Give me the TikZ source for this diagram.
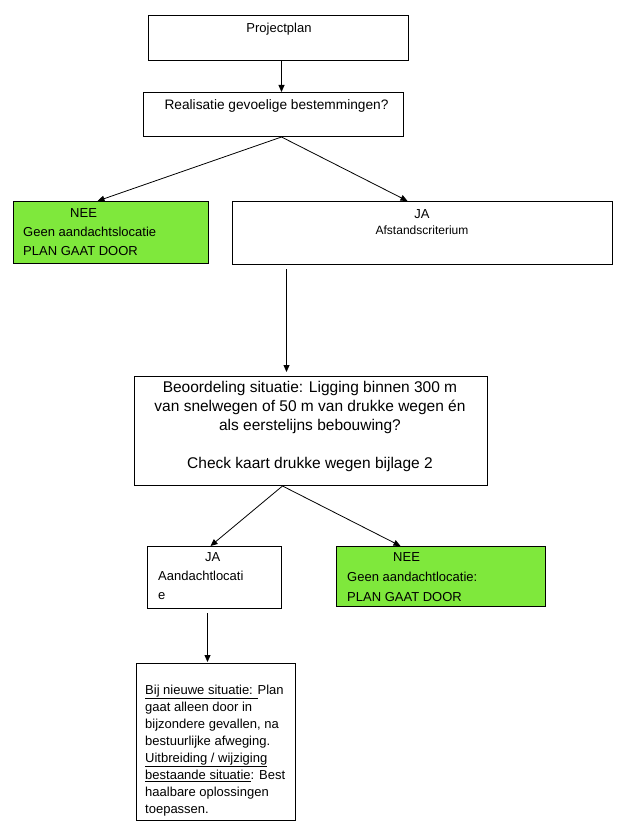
\documentclass[tikz,border=0pt]{standalone}
\usepackage{fontspec}
\setmainfont{Liberation Sans}
\usetikzlibrary{arrows.meta}
\definecolor{Lime}{HTML}{7FE83C}

\tikzset{
  box/.style={draw=black, line width=1pt, inner sep=0pt, anchor=north west},
  okbox/.style={box, fill=Lime},
  txt/.style={inner sep=0pt, font=\fontsize{13}{19}\selectfont},
  arr/.style={-{Triangle[length=7pt,width=6pt]}, line width=0.8pt},
}

\begin{document}
\begin{tikzpicture}[x=1pt,y=-1pt]
  \useasboundingbox (0,0) rectangle (629,826);
  % boxes
  \node[box, minimum width=260, minimum height=45] (plan) at (148,15) {};
  \node[box, minimum width=260, minimum height=44] (real) at (143,92) {};
  \node[okbox, minimum width=195, minimum height=62] (nee1) at (13,201) {};
  \node[box, minimum width=380, minimum height=63] (ja1) at (232,201) {};
  \node[box, minimum width=353, minimum height=109] (beo) at (134,376) {};
  \node[box, minimum width=134, minimum height=62] (ja2) at (147,546) {};
  \node[okbox, minimum width=209, minimum height=60] (nee2) at (336,546) {};
  \node[box, minimum width=159, minimum height=157] (adv) at (136,663) {};
  % texts
  \node[txt, anchor=base] (plant) at (279,33) {Projectplan};
  \node[txt, anchor=base, font=\fontsize{13.7}{19}\selectfont] (realt) at (276.5,109.5) {Realisatie gevoelige bestemmingen?};
  \node[txt, anchor=north west, align=left] (nee1t) at (23,208.6) {\hspace*{47pt}NEE\\Geen aandachtslocatie\\PLAN GAAT DOOR};
  \node[txt, anchor=north, align=center, font=\fontsize{13}{16}\selectfont] (ja1t) at (422,209.7) {JA\\{\fontsize{12}{16}\selectfont Afstandscriterium}};
  \node[txt, anchor=north, align=center, font=\fontsize{15.5}{19}\selectfont] (beot) at (310,380.7) {Beoordeling situatie: Ligging binnen 300 m\\van snelwegen of 50 m van drukke wegen én\\als eerstelijns bebouwing?\\[19.5pt]Check kaart drukke wegen bijlage 2};
  \node[txt, anchor=north west, align=left, font=\fontsize{13}{19}\selectfont] (ja2t) at (158,552.5) {\hspace*{47pt}JA\\Aandachtlocati\\e};
  \node[txt, anchor=north west, align=left, font=\fontsize{13}{20}\selectfont] (nee2t) at (347,552.5) {\hspace*{46pt}NEE\\Geen aandachtlocatie:\\PLAN GAAT DOOR};
  \node[txt, anchor=north west, align=left, font=\fontsize{13}{17}\selectfont] (advt) at (145,684.6) {\underline{Bij nieuwe situatie: }Plan\\gaat alleen door in\\bijzondere gevallen, na\\bestuurlijke afweging.\\\underline{Uitbreiding / wijziging}\\\underline{bestaande situatie}: Best\\haalbare oplossingen\\toepassen.};
  % connectors
  \draw[arr] ([xshift=3pt]plan.south) -- ([xshift=8pt]real.north);
  \draw[arr] ([xshift=8pt]real.south) -- ([xshift=-13.5pt]nee1.north);
  \draw[arr] ([xshift=8pt]real.south) -- ([xshift=-15pt]ja1.north);
  \draw[arr] ([xshift=-136pt,yshift=-4pt]ja1.south) -- ([xshift=-24.5pt,yshift=4pt]beo.north);
  \draw[arr] ([xshift=-28.5pt]beo.south) -- ([xshift=-4pt]ja2.north);
  \draw[arr] ([xshift=-28.5pt]beo.south) -- ([xshift=-40.5pt]nee2.north);
  \draw[arr] ([xshift=-7pt,yshift=-4pt]ja2.south) -- ([xshift=-8.5pt,yshift=1pt]adv.north);
\end{tikzpicture}
\end{document}
